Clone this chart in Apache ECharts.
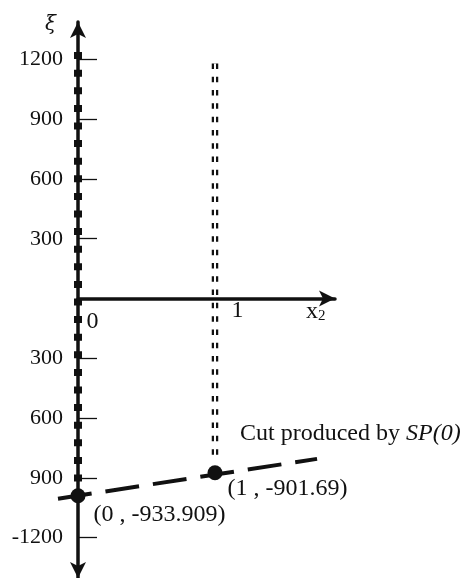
<!DOCTYPE html>
<html><head><meta charset="utf-8">
<script src="https://cdn.jsdelivr.net/npm/echarts@6/dist/echarts.min.js"></script>
<style>html,body{margin:0;padding:0;background:#fff}#c{width:463px;height:578px}</style>
</head><body><div id="c"></div>
<script>
// ---- data ----
const yTickValues = [1200, 900, 600, 300, -300, -600, -900, -1200];
const yTickLabels = ['1200', '900', '600', '300', '300', '600', '900', '-1200'];
const xTickValues = [0, 1];
const xTickLabels = ['0', '1'];
const pointX = [0, 1];
const pointY = [-990, -875];
const pointLabels = ['(0 , -933.909)', '(1 , -901.69)'];
const cutX = [-0.146, 1.745];
const cutY = [-1005, -805];
const boundX = [0, 0];
const boundY = [1237, -935];
const vLineX = [1, 1];
const vLineY = [1180, -820];
const cutLabelPlain = 'Cut produced by ';
const cutLabelItalic = 'SP(0)';
const xName = 'x';
const xNameSub = '2';
const yName = 'ξ';

// ---- chart ----
const FONT = '"Liberation Serif", "DejaVu Serif", serif';
const INK = '#111';
const FS = 22;
const FA = 24;
const X_MIN = -0.146, X_MAX = 1.876, Y_MIN = -1403, Y_MAX = 1388;
const pairs = (xs, ys) => xs.map((x, i) => [x, ys[i]]);
const hiddenAxis = {
  type: 'value', splitLine: {show: false}, axisLine: {show: false},
  axisTick: {show: false}, axisLabel: {show: false}
};

const chart = echarts.init(document.getElementById('c'), null, {renderer: 'canvas'});
chart.setOption({
  animation: false,
  backgroundColor: '#fff',
  grid: [
    // plotting grid (data extends slightly left of the x=0 axis)
    {left: 58, top: 22, width: 277, bottom: 0, containLabel: false, outerBoundsMode: 'none'},
    // axes grid (axes start at x = 0)
    {left: 78, top: 22, width: 257, bottom: 0, containLabel: false, outerBoundsMode: 'none'}
  ],
  xAxis: [
    Object.assign({gridIndex: 0, min: X_MIN, max: X_MAX}, hiddenAxis),
    {
      type: 'value', gridIndex: 1, min: 0, max: X_MAX, z: 5,
      splitLine: {show: false},
      axisLine: {onZero: true, lineStyle: {color: INK, width: 3.5}, symbol: ['none', 'arrow'], symbolSize: [12, 16]},
      axisTick: {show: false},
      axisLabel: {show: false}
    }
  ],
  yAxis: [
    Object.assign({gridIndex: 0, min: Y_MIN, max: Y_MAX}, hiddenAxis),
    {
      type: 'value', gridIndex: 1, min: Y_MIN, max: Y_MAX, z: 5,
      splitLine: {show: false},
      axisLine: {onZero: true, lineStyle: {color: INK, width: 3.5}, symbol: ['arrow', 'arrow'], symbolSize: [12, 16]},
      axisTick: {show: true, inside: true, length: 19, customValues: yTickValues, lineStyle: {color: INK, width: 1.3}},
      axisLabel: {
        show: true, customValues: yTickValues, margin: 15,
        fontFamily: FONT, fontSize: FS, color: INK,
        formatter: v => yTickLabels[yTickValues.indexOf(v)]
      }
    }
  ],
  series: [
    {
      type: 'line', data: pairs(boundX, boundY), symbol: 'none', silent: true, z: 3,
      lineStyle: {color: INK, width: 8, type: [7, 10.6], cap: 'butt'}
    },
    {
      type: 'line', data: pairs(vLineX, vLineY), symbol: 'none', silent: true, z: 3,
      lineStyle: {color: INK, width: 6.5, type: [5.5, 7.8], cap: 'butt'}
    },
    {
      type: 'line', data: pairs(vLineX, vLineY), symbol: 'none', silent: true, z: 4,
      lineStyle: {color: '#fff', width: 2, type: 'solid'}
    },
    {
      type: 'line', data: pairs(cutX, cutY), symbol: 'none', silent: true, z: 6,
      lineStyle: {color: INK, width: 4, type: [34, 14], cap: 'butt'}
    },
    {
      type: 'scatter', data: pairs(pointX, pointY), symbol: 'circle', symbolSize: 15, z: 7,
      itemStyle: {color: INK, opacity: 1},
      label: {
        show: true, position: 'right', distance: 5,
        formatter: p => pointLabels[p.dataIndex],
        fontFamily: FONT, fontSize: FA, color: INK
      },
      labelLayout: p => ({dx: p.dataIndex === 0 ? 3 : 0, dy: p.dataIndex === 0 ? 19 : 16})
    },
    {
      type: 'scatter', data: xTickValues.map(v => [v, 0]), symbolSize: 0, z: 7, silent: true,
      itemStyle: {color: INK, opacity: 1},
      label: {
        show: true, position: 'inside',
        formatter: p => xTickLabels[p.dataIndex],
        fontFamily: FONT, fontSize: FA, color: INK, opacity: 1
      },
      labelLayout: p => (p.dataIndex === 0 ? {dx: 14.5, dy: 23.5} : {dx: 22.5, dy: 12.5})
    }
  ],
  graphic: [
    {
      type: 'text', left: 240, top: 422, silent: true,
      style: {
        text: '{n|' + cutLabelPlain + '}{i|' + cutLabelItalic + '}',
        rich: {
          n: {fontFamily: FONT, fontSize: FA, fill: INK},
          i: {fontFamily: FONT, fontSize: FA, fontStyle: 'italic', fill: INK}
        }
      }
    },
    {
      type: 'text', left: 306, top: 300, silent: true,
      style: {
        text: '{a|' + xName + '}{b|' + xNameSub + '}',
        rich: {
          a: {fontFamily: FONT, fontSize: FA, fill: INK},
          b: {fontFamily: FONT, fontSize: 15, fill: INK, verticalAlign: 'bottom', padding: [9, 0, 0, 0]}
        }
      }
    },
    {
      type: 'text', left: 45, top: 15, silent: true,
      style: {text: yName, fontFamily: '"DejaVu Serif", serif', fontSize: 20, fontStyle: 'italic', fill: INK}
    }
  ]
});
</script>
</body></html>
